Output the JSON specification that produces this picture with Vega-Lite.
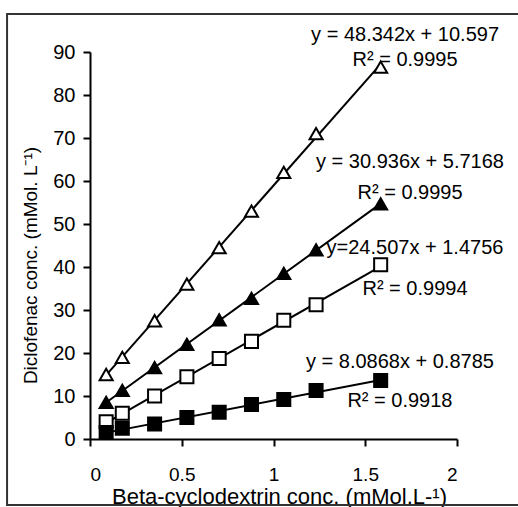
{
  "$schema": "https://vega.github.io/schema/vega-lite/v6.json",
  "autosize": {"type": "none"},
  "padding": {"left": 90, "top": 52, "right": 61, "bottom": 68},
  "width": 367,
  "height": 387,
  "background": "white",
  "config": {
    "view": {"stroke": null},
    "font": "Liberation Sans",
    "axis": {
      "grid": false,
      "domainColor": "black",
      "domainWidth": 2,
      "tickColor": "black",
      "tickWidth": 2,
      "tickSize": 7,
      "labelColor": "black",
      "labelFont": "Liberation Sans",
      "labelFontSize": 20,
      "titleFont": "Liberation Sans",
      "titleFontSize": 19,
      "titleFontWeight": "normal",
      "titleColor": "black"
    }
  },
  "datasets": {
    "points": [
      {"series": "A", "x": 0.088, "y": 15.0}, {"series": "A", "x": 0.176, "y": 19.0}, {"series": "A", "x": 0.352, "y": 27.5}, {"series": "A", "x": 0.528, "y": 36.0}, {"series": "A", "x": 0.704, "y": 44.5}, {"series": "A", "x": 0.88, "y": 53.0}, {"series": "A", "x": 1.056, "y": 62.0}, {"series": "A", "x": 1.232, "y": 71.0}, {"series": "A", "x": 1.584, "y": 86.5},
      {"series": "B", "x": 0.088, "y": 8.5}, {"series": "B", "x": 0.176, "y": 11.3}, {"series": "B", "x": 0.352, "y": 16.6}, {"series": "B", "x": 0.528, "y": 22.0}, {"series": "B", "x": 0.704, "y": 27.7}, {"series": "B", "x": 0.88, "y": 32.7}, {"series": "B", "x": 1.056, "y": 38.5}, {"series": "B", "x": 1.232, "y": 44.0}, {"series": "B", "x": 1.584, "y": 54.7},
      {"series": "C", "x": 0.088, "y": 4.0}, {"series": "C", "x": 0.176, "y": 6.0}, {"series": "C", "x": 0.352, "y": 10.0}, {"series": "C", "x": 0.528, "y": 14.5}, {"series": "C", "x": 0.704, "y": 18.7}, {"series": "C", "x": 0.88, "y": 22.7}, {"series": "C", "x": 1.056, "y": 27.6}, {"series": "C", "x": 1.232, "y": 31.2}, {"series": "C", "x": 1.584, "y": 40.5},
      {"series": "D", "x": 0.088, "y": 1.5}, {"series": "D", "x": 0.176, "y": 2.5}, {"series": "D", "x": 0.352, "y": 3.5}, {"series": "D", "x": 0.528, "y": 5.0}, {"series": "D", "x": 0.704, "y": 6.2}, {"series": "D", "x": 0.88, "y": 8.0}, {"series": "D", "x": 1.056, "y": 9.2}, {"series": "D", "x": 1.232, "y": 11.3}, {"series": "D", "x": 1.584, "y": 13.6}
    ],
    "labels": [
      {"x": 1.717, "y": 94.0, "text": "y = 48.342x + 10.597"},
      {"x": 1.717, "y": 88.1, "text": "R² = 0.9995"},
      {"x": 1.744, "y": 64.4, "text": "y = 30.936x + 5.7168"},
      {"x": 1.744, "y": 57.2, "text": "R² = 0.9995"},
      {"x": 1.771, "y": 44.4, "text": "y=24.507x + 1.4756"},
      {"x": 1.771, "y": 34.9, "text": "R² = 0.9994"},
      {"x": 1.689, "y": 17.9, "text": "y = 8.0868x + 0.8785"},
      {"x": 1.689, "y": 8.8, "text": "R² = 0.9918"}
    ]
  },
  "layer": [
    {
      "data": {"values": [{}]},
      "mark": {"type": "rect", "fill": null, "stroke": "#333333", "strokeWidth": 2, "clip": false},
      "encoding": {
        "x": {"datum": -0.452, "type": "quantitative", "scale": {"domain": [0, 2], "nice": false}},
        "x2": {"datum": 2.4},
        "y": {"datum": -15.35, "type": "quantitative", "scale": {"domain": [0, 90], "nice": false}},
        "y2": {"datum": 98.84}
      }
    },
    {
      "data": {"name": "points"},
      "transform": [{"regression": "y", "on": "x", "groupby": ["series"], "extent": [0.088, 1.584]}],
      "mark": {"type": "line", "color": "black", "strokeWidth": 2},
      "encoding": {
        "x": {"field": "x", "type": "quantitative", "scale": {"domain": [0, 2], "nice": false},
          "axis": {"values": [0, 0.5, 1, 1.5, 2], "format": "~g", "labelFontSize": 19, "labelPadding": 19, "title": "Beta-cyclodextrin conc. (mMol.L-¹)", "titleFontSize": 22, "titleX": 189, "titleY": 64, "titleAnchor": null, "titleAlign": "center", "titleBaseline": "alphabetic"}},
        "y": {"field": "y", "type": "quantitative", "scale": {"domain": [0, 90], "nice": false},
          "axis": {"values": [0, 10, 20, 30, 40, 50, 60, 70, 80, 90], "format": "d", "labelPadding": 8, "title": "Diclofenac conc. (mMol. L⁻¹)", "titleX": -60, "titleY": 213, "titleAngle": -90, "titleAlign": "center", "titleBaseline": "middle"}},
        "detail": {"field": "series"}
      }
    },
    {
      "data": {"name": "labels"},
      "mark": {"type": "text", "fontSize": 20, "color": "black", "align": "center", "baseline": "middle", "font": "Liberation Sans"},
      "encoding": {
        "x": {"field": "x", "type": "quantitative"},
        "y": {"field": "y", "type": "quantitative"},
        "text": {"field": "text"}
      }
    },
    {
      "data": {"name": "points"},
      "mark": {"type": "point", "filled": false, "strokeWidth": 2, "opacity": 1},
      "encoding": {
        "x": {"field": "x", "type": "quantitative"},
        "y": {"field": "y", "type": "quantitative"},
        "shape": {"field": "series", "type": "nominal", "scale": {"domain": ["A", "B", "C", "D"], "range": ["triangle-up", "triangle-up", "square", "square"]}, "legend": null},
        "fill": {"field": "series", "type": "nominal", "scale": {"domain": ["A", "B", "C", "D"], "range": ["white", "black", "white", "black"]}, "legend": null},
        "stroke": {"value": "black"},
        "size": {"field": "series", "type": "nominal", "scale": {"domain": ["A", "B", "C", "D"], "range": [170, 170, 150, 160]}, "legend": null}
      }
    }
  ]
}
